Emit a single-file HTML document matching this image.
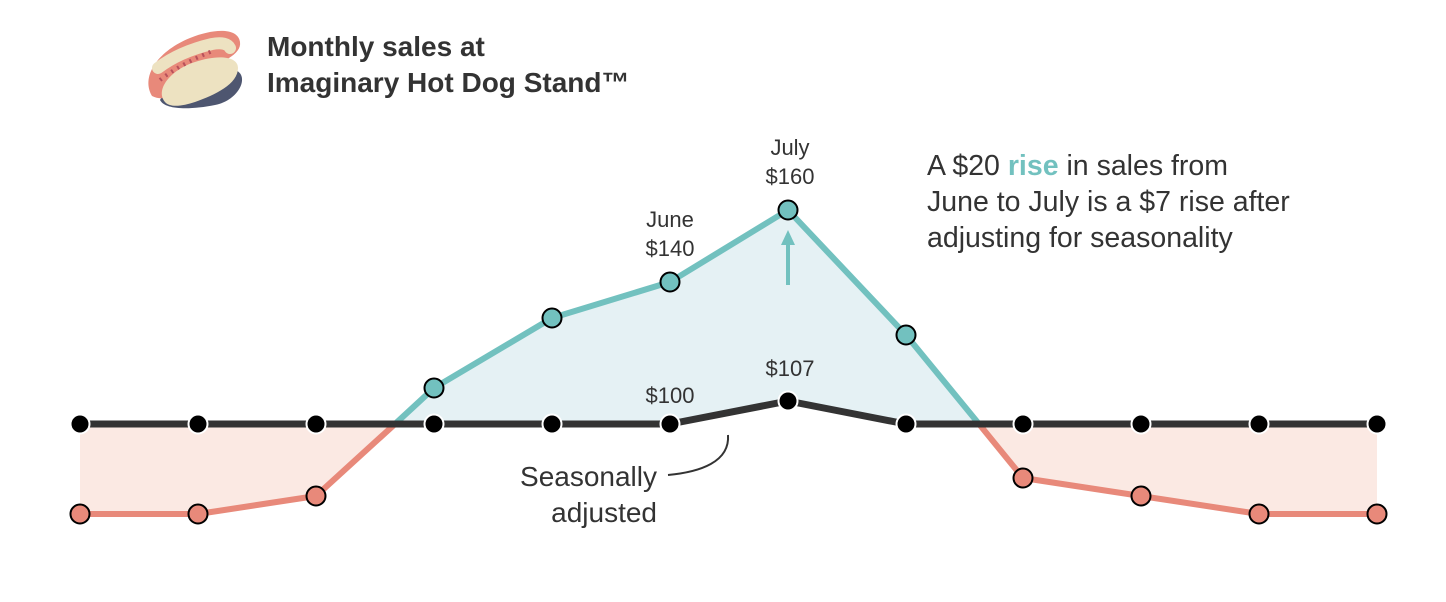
<!DOCTYPE html>
<html><head><meta charset="utf-8"><style>
body{margin:0;background:#fff;}
svg{display:block;font-family:"Liberation Sans",sans-serif;}
</style></head><body>
<svg width="1446" height="602" viewBox="0 0 1446 602">
<!-- hot dog icon -->
<g>
<path d="M160 100 C170 80 210 65 235 70 C250 75 240 100 215 105 C190 110 165 110 160 100Z" fill="#4e5670"/>
<path d="M152 96 C140 75 160 50 190 38 C215 28 238 28 240 42 C242 55 220 62 205 72 C185 85 170 105 152 96Z" fill="#e8897a"/>
<path d="M165 102 C155 90 170 70 195 62 C215 55 238 55 238 68 C238 84 215 95 195 102 C183 106 170 108 165 102Z" fill="#ede2c1"/>
<path d="M158 68 C175 55 195 48 212 44 C222 42 228 44 230 48" stroke="#ede2c1" stroke-width="12" fill="none" stroke-linecap="round"/>
<path d="M160 80 C175 68 195 58 215 50" stroke="#b8505a" stroke-width="4" stroke-dasharray="2 5" fill="none"/>
</g>
<text x="267" y="56" font-size="28" font-weight="bold" fill="#333">Monthly sales at</text>
<text x="267" y="92" font-size="28" font-weight="bold" fill="#333">Imaginary Hot Dog Stand™</text>

<!-- fills -->
<polygon points="80,424 316,424 395,424 316,496 198,514 80,514" fill="#fbe9e3"/>
<polygon points="979,424 1377,424 1377,514 1259,514 1141,496 1023,478" fill="#fbe9e3"/>
<polygon points="395,424 434,388 552,318 670,282 788,210 906,335 979,424 906,424 788,401 670,424" fill="#e5f1f4"/>

<!-- colored line -->
<polyline points="80,514 198,514 316,496 395,424" fill="none" stroke="#e8897a" stroke-width="6" stroke-linejoin="round"/>
<polyline points="979,424 1023,478 1141,496 1259,514 1377,514" fill="none" stroke="#e8897a" stroke-width="6" stroke-linejoin="round"/>
<polyline points="395,424 434,388 552,318 670,282 788,210 906,335 979,424" fill="none" stroke="#72c1bf" stroke-width="6" stroke-linejoin="round"/>

<!-- black line -->
<polyline points="80,424 670,424 788,401 906,424 1377,424" fill="none" stroke="#333" stroke-width="7" stroke-linejoin="round"/>

<!-- arrow -->
<line x1="788" y1="285" x2="788" y2="240" stroke="#72c1bf" stroke-width="4"/>
<polygon points="781,245 795,245 788,230" fill="#72c1bf"/>

<!-- points -->
<g stroke="#000" stroke-width="2">
<circle cx="80" cy="514" r="9.5" fill="#e8897a"/><circle cx="198" cy="514" r="9.5" fill="#e8897a"/><circle cx="316" cy="496" r="9.5" fill="#e8897a"/>
<circle cx="1023" cy="478" r="9.5" fill="#e8897a"/><circle cx="1141" cy="496" r="9.5" fill="#e8897a"/><circle cx="1259" cy="514" r="9.5" fill="#e8897a"/><circle cx="1377" cy="514" r="9.5" fill="#e8897a"/>
<circle cx="434" cy="388" r="9.5" fill="#72c1bf"/><circle cx="552" cy="318" r="9.5" fill="#72c1bf"/><circle cx="670" cy="282" r="9.5" fill="#72c1bf"/><circle cx="788" cy="210" r="9.5" fill="#72c1bf"/><circle cx="906" cy="335" r="9.5" fill="#72c1bf"/>
</g>
<g fill="#000" stroke="#fff" stroke-width="2">
<circle cx="80" cy="424" r="9.5"/><circle cx="198" cy="424" r="9.5"/><circle cx="316" cy="424" r="9.5"/><circle cx="434" cy="424" r="9.5"/><circle cx="552" cy="424" r="9.5"/><circle cx="670" cy="424" r="9.5"/><circle cx="788" cy="401" r="9.5"/><circle cx="906" cy="424" r="9.5"/><circle cx="1023" cy="424" r="9.5"/><circle cx="1141" cy="424" r="9.5"/><circle cx="1259" cy="424" r="9.5"/><circle cx="1377" cy="424" r="9.5"/>
</g>

<!-- labels -->
<g font-size="22" fill="#333" text-anchor="middle">
<text x="670" y="227">June</text><text x="670" y="256">$140</text>
<text x="790" y="155">July</text><text x="790" y="184">$160</text>
<text x="670" y="403">$100</text>
<text x="790" y="376">$107</text>
</g>
<path d="M668 475 C700 472 730 462 728 435" fill="none" stroke="#333" stroke-width="2"/>
<g font-size="28" fill="#333" text-anchor="end">
<text x="657" y="486">Seasonally</text>
<text x="657" y="522">adjusted</text>
</g>
<g font-size="28.5" fill="#333">
<text x="927" y="175">A $20 <tspan fill="#72c1bf" font-weight="bold">rise</tspan> in sales from</text>
<text x="927" y="211">June to July is a $7 rise after</text>
<text x="927" y="247">adjusting for seasonality</text>
</g>
</svg>
</body></html>
